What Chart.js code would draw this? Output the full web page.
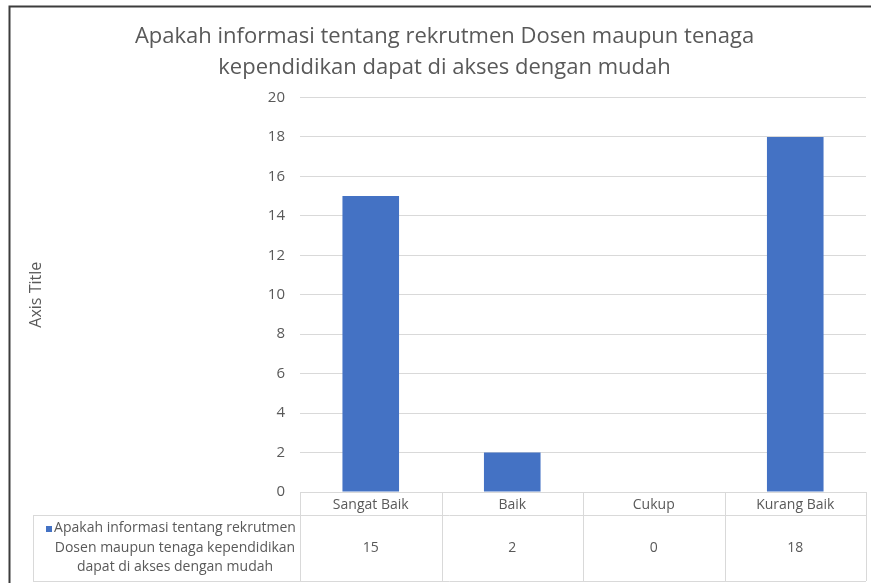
<!DOCTYPE html>
<html>
<head>
<meta charset="utf-8">
<script src="https://cdn.jsdelivr.net/npm/chart.js@4/dist/chart.umd.min.js"></script>
<style>
  html, body { margin: 0; padding: 0; background: #ffffff; }
  #wrap { width: 871px; height: 583px; position: relative; }
</style>
</head>
<body>
<div id="wrap"><canvas id="chart" width="871" height="583"></canvas></div>
<script>
// chart data
const categories = ["Sangat Baik", "Baik", "Cukup", "Kurang Baik"];
const values = [15, 2, 0, 18];
const seriesName = "Apakah informasi tentang rekrutmen Dosen maupun tenaga kependidikan dapat di akses dengan mudah";
const legendLines = ["Apakah informasi tentang rekrutmen", "Dosen maupun tenaga kependidikan", "dapat di akses dengan mudah"];
const titleLines = ["Apakah informasi tentang rekrutmen Dosen maupun tenaga", "kependidikan dapat di akses dengan mudah"];

const FONT = "'Open Sans', sans-serif";
const TEXT = "#595959";
const GRID = "#d9d9d9";
const BAR = "#4472C4";

// draws the outer frame and the excel-like data table under the x axis
const dataTablePlugin = {
  id: "dataTable",
  afterDraw(chart) {
    const ctx = chart.ctx;
    const x = chart.scales.x;
    const area = chart.chartArea;
    const top = area.bottom;
    const rowLine = top + 23;
    const bottom = 581;
    const tableLeft = 33;
    const n = categories.length;
    const step = (area.right - area.left) / n;

    ctx.save();
    ctx.strokeStyle = GRID;
    ctx.lineWidth = 1;
    ctx.beginPath();
    ctx.moveTo(area.left, top + 0.5); ctx.lineTo(area.right, top + 0.5);
    ctx.moveTo(tableLeft, rowLine + 0.5); ctx.lineTo(area.right, rowLine + 0.5);
    ctx.moveTo(tableLeft, bottom + 0.5); ctx.lineTo(area.right, bottom + 0.5);
    ctx.moveTo(tableLeft + 0.5, rowLine); ctx.lineTo(tableLeft + 0.5, bottom);
    for (let i = 0; i <= n; i++) {
      const px = Math.round(area.left + i * step) + 0.5;
      ctx.moveTo(px, top); ctx.lineTo(px, bottom);
    }
    ctx.stroke();

    // values row
    ctx.fillStyle = TEXT;
    ctx.font = "14px " + FONT;
    ctx.textAlign = "center";
    ctx.textBaseline = "middle";
    const midRow = (rowLine + bottom) / 2;
    values.forEach((v, i) => {
      ctx.fillText(String(v), x.getPixelForValue(i), midRow);
    });

    // legend key + series name
    const cx = 175;
    legendLines.forEach((line, i) => {
      ctx.fillText(line, cx, midRow - 19.5 + i * 19.5);
    });
    const w0 = ctx.measureText(legendLines[0]).width;
    ctx.fillStyle = BAR;
    ctx.fillRect(Math.round(cx - w0 / 2 - 8), Math.round(midRow - 19.5 - 3), 6, 6);

    // outer frame (top and left edges)
    ctx.strokeStyle = "#3c3c3c";
    ctx.lineWidth = 2;
    ctx.beginPath();
    ctx.moveTo(9.5, 583); ctx.lineTo(9.5, 6.5); ctx.lineTo(871, 6.5);
    ctx.stroke();
    ctx.restore();
  }
};

new Chart(document.getElementById("chart"), {
  type: "bar",
  data: {
    labels: categories,
    datasets: [{
      label: seriesName,
      data: values,
      backgroundColor: BAR,
      categoryPercentage: 1,
      barPercentage: 0.4
    }]
  },
  options: {
    responsive: false,
    animation: false,
    layout: { padding: { left: 23, right: 5, top: 13, bottom: 2 } },
    plugins: {
      legend: { display: false },
      tooltip: { enabled: false },
      title: {
        display: true,
        text: titleLines,
        color: TEXT,
        font: { family: FONT, size: 22, weight: "normal", lineHeight: 1.42 },
        padding: { top: 8, bottom: 14 }
      }
    },
    scales: {
      x: {
        grid: { display: false, drawTicks: false },
        border: { display: false },
        ticks: { color: TEXT, font: { family: FONT, size: 14 }, padding: 5, maxRotation: 0 },
        afterFit(scale) { scale.height = 89; }
      },
      y: {
        min: 0,
        max: 20,
        ticks: { stepSize: 2, color: TEXT, font: { family: FONT, size: 15 }, padding: 15 },
        grid: { color: GRID, drawTicks: false },
        border: { display: false },
        title: { display: true, text: "Axis Title", color: TEXT, font: { family: FONT, size: 16 } },
        afterFit(scale) { scale.width = 277; }
      }
    }
  },
  plugins: [dataTablePlugin]
});
</script>
</body>
</html>
